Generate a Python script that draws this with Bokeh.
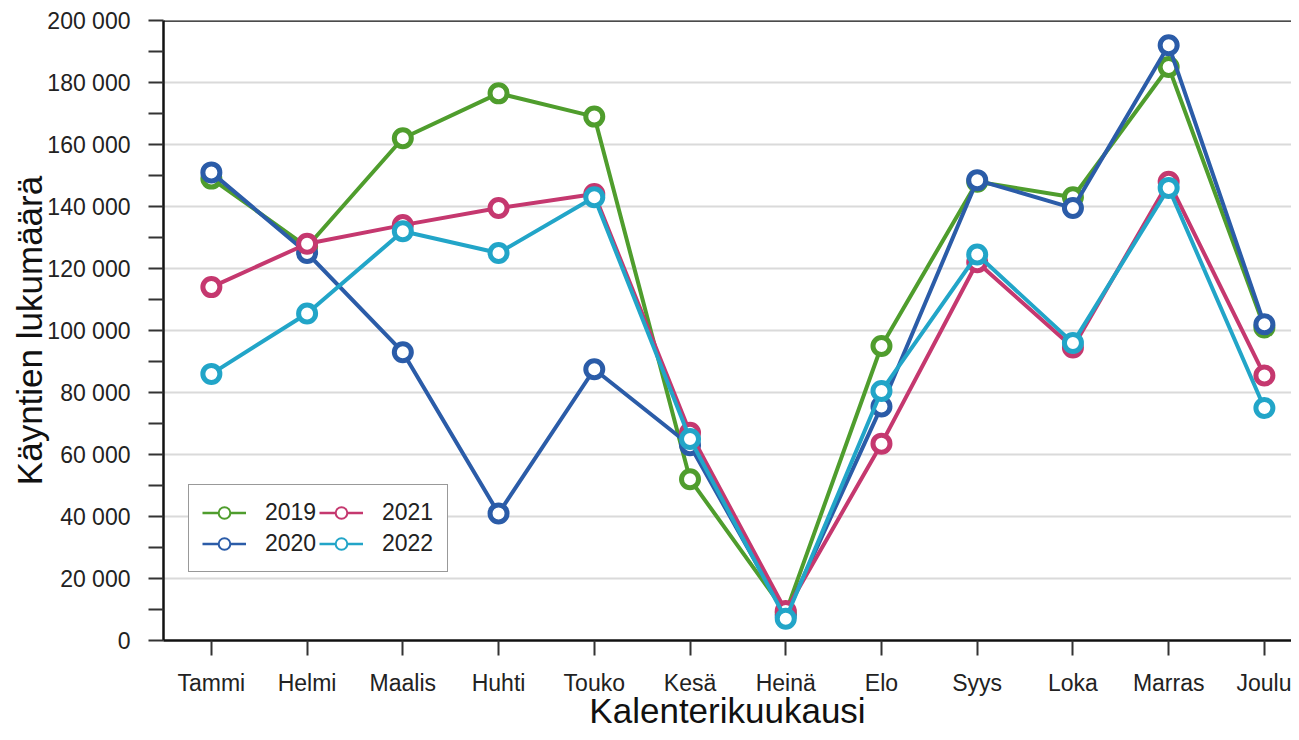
from bokeh.plotting import figure
from bokeh.models import (Range1d, FixedTicker, Span, Legend, LegendItem,
                          ColumnDataSource)
from bokeh.embed import file_html
from bokeh.resources import INLINE

months = ["Tammi", "Helmi", "Maalis", "Huhti", "Touko", "Kesä", "Heinä",
          "Elo", "Syys", "Loka", "Marras", "Joulu"]
years = ["2019", "2020", "2021", "2022"]
v2019 = [149000, 127000, 162000, 176500, 169000, 52000, 9000, 95000, 148000, 143000, 185000, 101000]
v2020 = [151000, 125000, 93000, 41000, 87500, 63000, 8000, 75500, 148500, 139500, 192000, 102000]
v2021 = [114000, 128000, 134000, 139500, 144000, 67000, 9500, 63500, 122000, 94500, 148000, 85500]
v2022 = [86000, 105500, 132000, 125000, 143000, 65000, 7000, 80500, 124500, 96000, 146000, 75000]
series = [v2019, v2020, v2021, v2022]
colors = ["#4f9d2d", "#2b5ca8", "#c5386f", "#22a5c8"]
y_ticks = [0, 20000, 40000, 60000, 80000, 100000, 120000, 140000, 160000, 180000, 200000]
y_tick_labels = ["0", "20 000", "40 000", "60 000", "80 000", "100 000", "120 000",
                 "140 000", "160 000", "180 000", "200 000"]
y_minor = [10000, 30000, 50000, 70000, 90000, 110000, 130000, 150000, 170000, 190000]
x_title = "Kalenterikuukausi"
y_title = "Käyntien lukumäärä"

FONT = "Liberation Sans"
TXT = "#222222"

W, H = 1291, 732
BL, BT, BB = 163, 20, 92
x_end = 0.5 + (W - BL) / 95.73

p = figure(width=W, height=H, output_backend="svg", toolbar_location=None,
           x_range=Range1d(0.5, x_end), y_range=Range1d(0, 200000),
           min_border_left=BL, min_border_right=0, min_border_top=BT,
           min_border_bottom=BB)
p.outline_line_color = None
p.background_fill_color = "white"
p.border_fill_color = "white"

x = list(range(1, len(months) + 1))
items = []
for vals, col, yr in zip(series, colors, years):
    src = ColumnDataSource(dict(x=x, y=vals))
    p.line("x", "y", source=src, line_color=col, line_width=4)
    p.scatter("x", "y", source=src, size=17, marker="circle", fill_color="white",
              line_color=col, line_width=5)
    # thin legend-only renderers (a single NaN point: nothing is drawn in the plot)
    leg_src = ColumnDataSource(dict(x=[float("nan")], y=[float("nan")]))
    r1 = p.line("x", "y", source=leg_src, line_color=col, line_width=2.5)
    r2 = p.scatter("x", "y", source=leg_src, size=7, marker="circle",
                   fill_color="white", line_color=col, line_width=2)
    items.append(LegendItem(label=yr, renderers=[r1, r2]))

leg = Legend(items=items, location=(25, 68), ncols=2, orientation="vertical",
             label_text_font=FONT, label_text_font_size="23px", label_text_color=TXT,
             glyph_width=44, glyph_height=29, label_height=29, label_standoff=19,
             label_width=52, spacing=2, padding=13, margin=0,
             border_line_color="#333333", border_line_width=1.5,
             background_fill_alpha=1.0)
p.add_layout(leg, "center")

top = Span(location=200000, dimension="width", line_color="#111111", line_width=2.5)
p.add_layout(top)

# axes
p.xaxis.ticker = FixedTicker(ticks=x)
p.xaxis.major_label_overrides = {i + 1: m for i, m in enumerate(months)}
p.yaxis.ticker = FixedTicker(ticks=y_ticks, minor_ticks=y_minor)
p.yaxis.major_label_overrides = {t: l for t, l in zip(y_ticks, y_tick_labels)}

for ax in (p.xaxis, p.yaxis):
    ax.axis_line_color = "#111111"
    ax.axis_line_width = 2.5
    ax.major_tick_line_color = "#333333"
    ax.major_tick_line_width = 2
    ax.major_tick_in = 0
    ax.major_tick_out = 15
    ax.major_label_text_font = FONT
    ax.major_label_text_font_size = "23px"
    ax.major_label_text_color = TXT
    ax.axis_label_text_font = FONT
    ax.axis_label_text_font_size = "35px"
    ax.axis_label_text_font_style = "normal"
    ax.axis_label_text_color = "#111111"

p.xaxis.minor_tick_line_color = None
p.yaxis.minor_tick_line_color = "#333333"
p.yaxis.minor_tick_line_width = 2
p.yaxis.minor_tick_in = 0
p.yaxis.minor_tick_out = 15
p.xaxis.major_label_standoff = 14
p.yaxis.major_label_standoff = 18
p.xaxis.axis_label = x_title
p.xaxis.axis_label_standoff = -8
p.yaxis.axis_label = y_title
p.yaxis.axis_label_standoff = -5

p.xgrid.grid_line_color = None
p.ygrid.grid_line_color = "#dadada"
p.ygrid.grid_line_width = 2

open("out.html", "w").write(file_html(p, INLINE))
